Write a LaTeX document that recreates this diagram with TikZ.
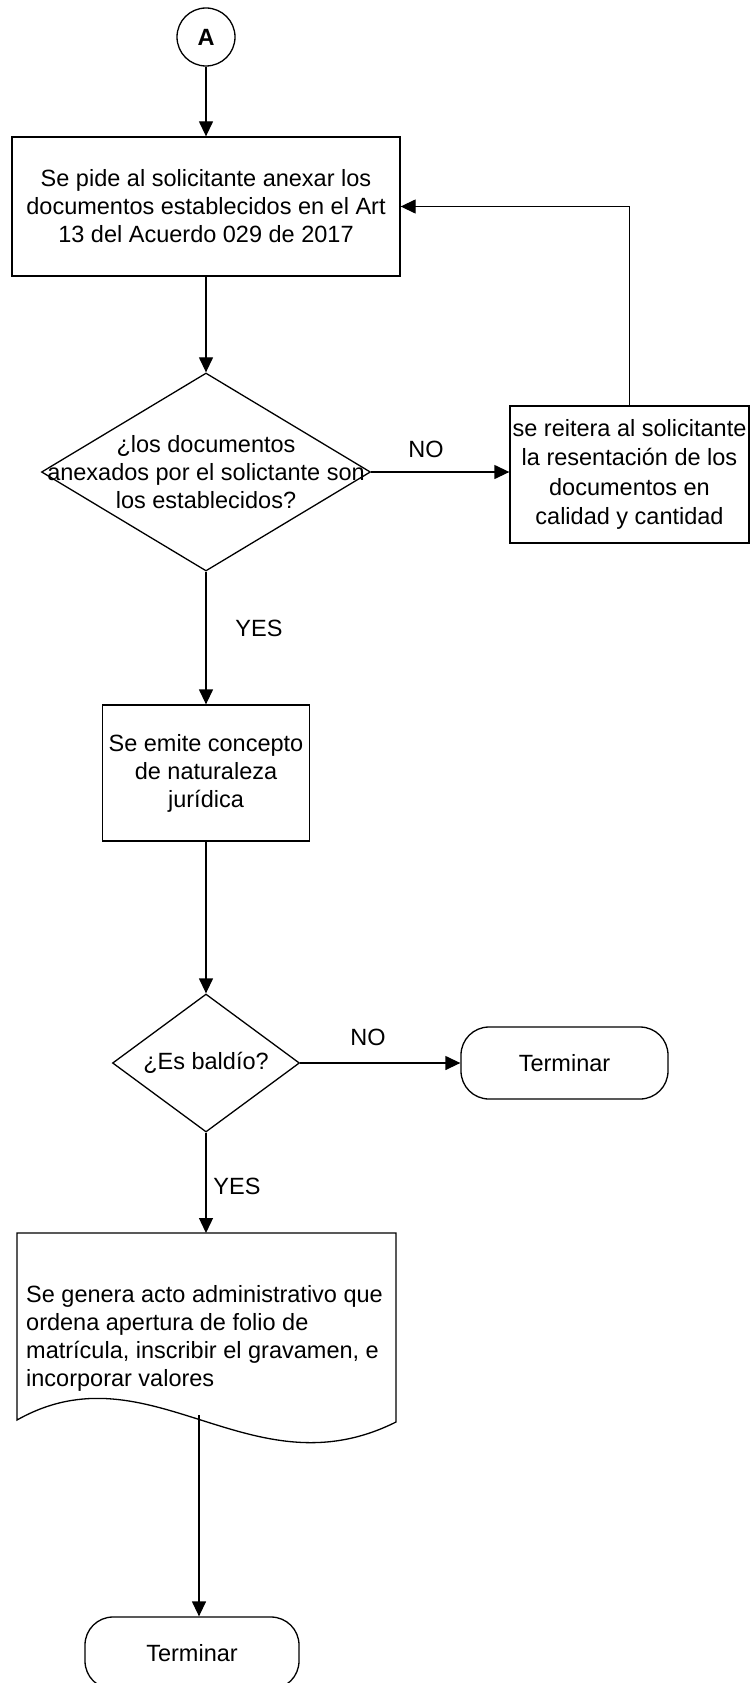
\documentclass[tikz,border=0pt]{standalone}
\usepackage{fontspec}
\setmainfont{Liberation Sans}
\usetikzlibrary{shapes.geometric,arrows.meta}
\begin{document}
\begin{tikzpicture}[x=1pt,y=-1pt,
  every node/.style={font=\fontsize{23.5}{28}\selectfont},
  line/.style={line width=1.3pt},
  arr/.style={line width=1.3pt,-{Triangle[length=15pt,width=14pt]}},
  proc/.style={draw,line width=1.3pt,rectangle,inner sep=0pt},
  dec/.style={draw,line width=1.3pt,diamond,inner sep=0pt},
  term/.style={draw,line width=1.3pt,rectangle,rounded corners=28pt,inner sep=0pt,minimum width=210pt,minimum height=72pt},
  txt/.style={align=center,inner sep=0pt},
  lbl/.style={inner sep=0pt}]
\useasboundingbox (0,0) rectangle (750,1683);
\fill[white] (0,0) rectangle (750,1683);

\node[draw,line width=1.3pt,circle,minimum size=58pt,inner sep=0pt,font=\fontsize{23.5}{28}\selectfont\bfseries] (A) at (206,37) {A};

\node[proc,minimum width=388pt,minimum height=139pt] (b1) at (206,206.5) {};
\node[txt] (b1t) at (b1) {Se pide al solicitante anexar los\\documentos establecidos en el Art\\13 del Acuerdo 029 de 2017};

\node[dec,minimum width=329pt,minimum height=198pt] (d1) at (206,472) {};
\node[txt] (d1t) at (d1) {¿los documentos\\anexados por el solictante son\\los establecidos?};

\node[proc,minimum width=239pt,minimum height=137pt] (b2) at (629.5,474.5) {};
\node[txt,font=\fontsize{23.5}{29.5}\selectfont] (b2t) at (b2) {se reitera al solicitante\\la resentación de los\\documentos en\\calidad y cantidad};

\node[proc,minimum width=207pt,minimum height=136pt] (b3) at (206,773) {};
\node[txt] (b3t) at (b3) {Se emite concepto\\de naturaleza\\jurídica};

\node[dec,minimum width=187pt,minimum height=138pt] (d2) at (206,1063) {};
\node[txt] (d2t) at (d2) {¿Es baldío?};

\node[term,minimum width=207pt] (t1) at (564.5,1063) {Terminar};

% document shape
\draw[line width=1.3pt] (17,1233) -- (396,1233) -- (396,1422)
  .. controls (250,1495) and (150,1345) .. (17,1420) -- cycle;
\node[align=left,anchor=west,inner sep=0pt] (doc) at (26,1338) {Se genera acto administrativo que\\ordena apertura de folio de\\matrícula, inscribir el gravamen, e\\incorporar valores};
\coordinate (doctop) at (206,1233);
\coordinate (docbot) at (199,1415);

\node[term,minimum width=214pt] (t2) at (192,1653) {Terminar};

% connectors
\draw[arr] (A) -- (b1);
\draw[arr] (b1) -- (d1);
\draw[arr] (d1.east) -- (d1.east -| b2.west);
\draw[arr] (b2.north) |- (b1.east);
\draw[arr] (d1) -- (b3);
\draw[arr] (b3) -- (d2);
\draw[arr] (d2.east) -- (d2.east -| t1.west);
\draw[arr] (d2.south) -- (doctop);
\draw[arr] (docbot) -- (docbot |- t2.north);

% labels
\node[lbl] (no1) at (426,449) {NO};
\node[lbl] (yes1) at (259,628) {YES};
\node[lbl] (no2) at (368,1037) {NO};
\node[lbl] (yes2) at (237,1186) {YES};
\end{tikzpicture}
\end{document}
